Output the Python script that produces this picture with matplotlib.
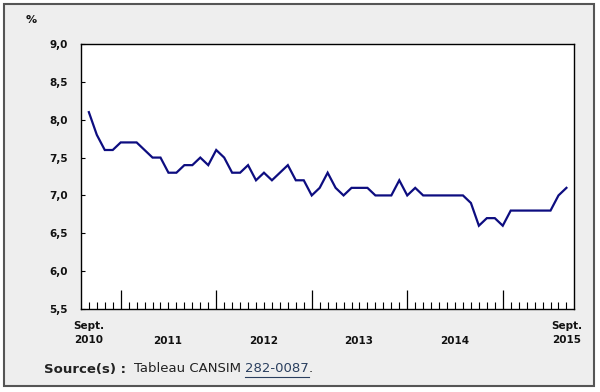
import matplotlib
matplotlib.use("Agg")
import matplotlib.pyplot as plt
from matplotlib.patches import Rectangle
from matplotlib.lines import Line2D

# Monthly values, Sept 2010 .. Sept 2015 (61 points)
values = [8.1, 7.8, 7.6, 7.6, 7.7, 7.7, 7.7, 7.6, 7.5, 7.5,
          7.3, 7.3, 7.4, 7.4, 7.5, 7.4, 7.6, 7.5, 7.3, 7.3,
          7.4, 7.2, 7.3, 7.2, 7.3, 7.4, 7.2, 7.2, 7.0, 7.1,
          7.3, 7.1, 7.0, 7.1, 7.1, 7.1, 7.0, 7.0, 7.0, 7.2,
          7.0, 7.1, 7.0, 7.0, 7.0, 7.0, 7.0, 7.0, 6.9, 6.6,
          6.7, 6.7, 6.6, 6.8, 6.8, 6.8, 6.8, 6.8, 6.8, 7.0,
          7.1]
months = list(range(len(values)))
year_starts = [4, 16, 28, 40, 52]           # January positions
year_labels = ["2011", "2012", "2013", "2014"]
year_label_pos = [9.9, 21.9, 33.9, 45.9]
end_labels = ["Sept.\n2010", "Sept.\n2015"]
y_ticks = [5.5, 6.0, 6.5, 7.0, 7.5, 8.0, 8.5, 9.0]
y_ticklabels = ["5,5", "6,0", "6,5", "7,0", "7,5", "8,0", "8,5", "9,0"]

W, H = 600, 392
fig = plt.figure(figsize=(W / 100, H / 100), dpi=100, facecolor="white")

# outer panel
fig.patches.append(Rectangle((4 / W, 6 / H), 590 / W, 382 / H, transform=fig.transFigure,
                             facecolor="#eeeeee", edgecolor="#555555", linewidth=1.5,
                             zorder=-10))

ax = fig.add_axes([80.5 / W, 1 - 309 / H, 493.5 / W, 265 / H])
ax.set_zorder(5)
ax.set_facecolor("white")
ax.plot(months, values, color="#0d0d80", linewidth=1.6, solid_joinstyle="miter")

ax.set_xlim(-1.05, 60.95)
ax.set_ylim(5.5, 9.0)
ax.set_yticks(y_ticks)
ax.set_yticklabels(y_ticklabels, fontsize=7.5, fontweight="bold", color="#111111")
ax.tick_params(axis="y", direction="in", length=3, width=0.8, pad=9)

ax.set_xticks(year_starts)
ax.set_xticklabels([])
ax.set_xticks(months, minor=True)
ax.tick_params(axis="x", which="major", direction="in", length=14, width=0.9)
ax.tick_params(axis="x", which="minor", direction="in", length=5, width=0.8)
for s in ax.spines.values():
    s.set_color("black")
    s.set_linewidth(1.0)

tkw = dict(fontsize=7.5, fontweight="bold", color="#111111", ha="center", va="top")
for lab, x in zip(year_labels, year_label_pos):
    ax.text(x, -0.1, lab, transform=ax.get_xaxis_transform(), **tkw)
ax.text(0, -0.045, end_labels[0], transform=ax.get_xaxis_transform(),
        linespacing=1.55, **tkw)
ax.text(60, -0.045, end_labels[1], transform=ax.get_xaxis_transform(),
        linespacing=1.55, **tkw)

fig.text(31 / W, 1 - 20 / H, "%", fontsize=8, fontweight="bold", ha="center", va="center",
         color="#111111")

# source line
fig.canvas.draw()
r = fig.canvas.get_renderer()
y_src = 1 - 369 / H
t1 = fig.text(44 / W, y_src, "Source(s) :", fontsize=9.5, fontweight="bold",
              va="center", color="#222222")
bb = t1.get_window_extent(r)
t2 = fig.text((bb.x1 + 8) / W, y_src, "Tableau CANSIM ", fontsize=9.5, va="center",
              color="#222222")
bb2 = t2.get_window_extent(r)
t3 = fig.text(bb2.x1 / W, y_src, "282-0087", fontsize=9.5, va="center", color="#2a3f5f")
bb3 = t3.get_window_extent(r)
fig.lines.append(Line2D([bb3.x0 / W, bb3.x1 / W], [(bb3.y0 - 1) / H, (bb3.y0 - 1) / H],
                        transform=fig.transFigure, color="#2a3f5f", linewidth=0.8))
fig.text(bb3.x1 / W, y_src, ".", fontsize=9.5, va="center", color="#222222")

fig.savefig("out.png", dpi=100, facecolor="white")
